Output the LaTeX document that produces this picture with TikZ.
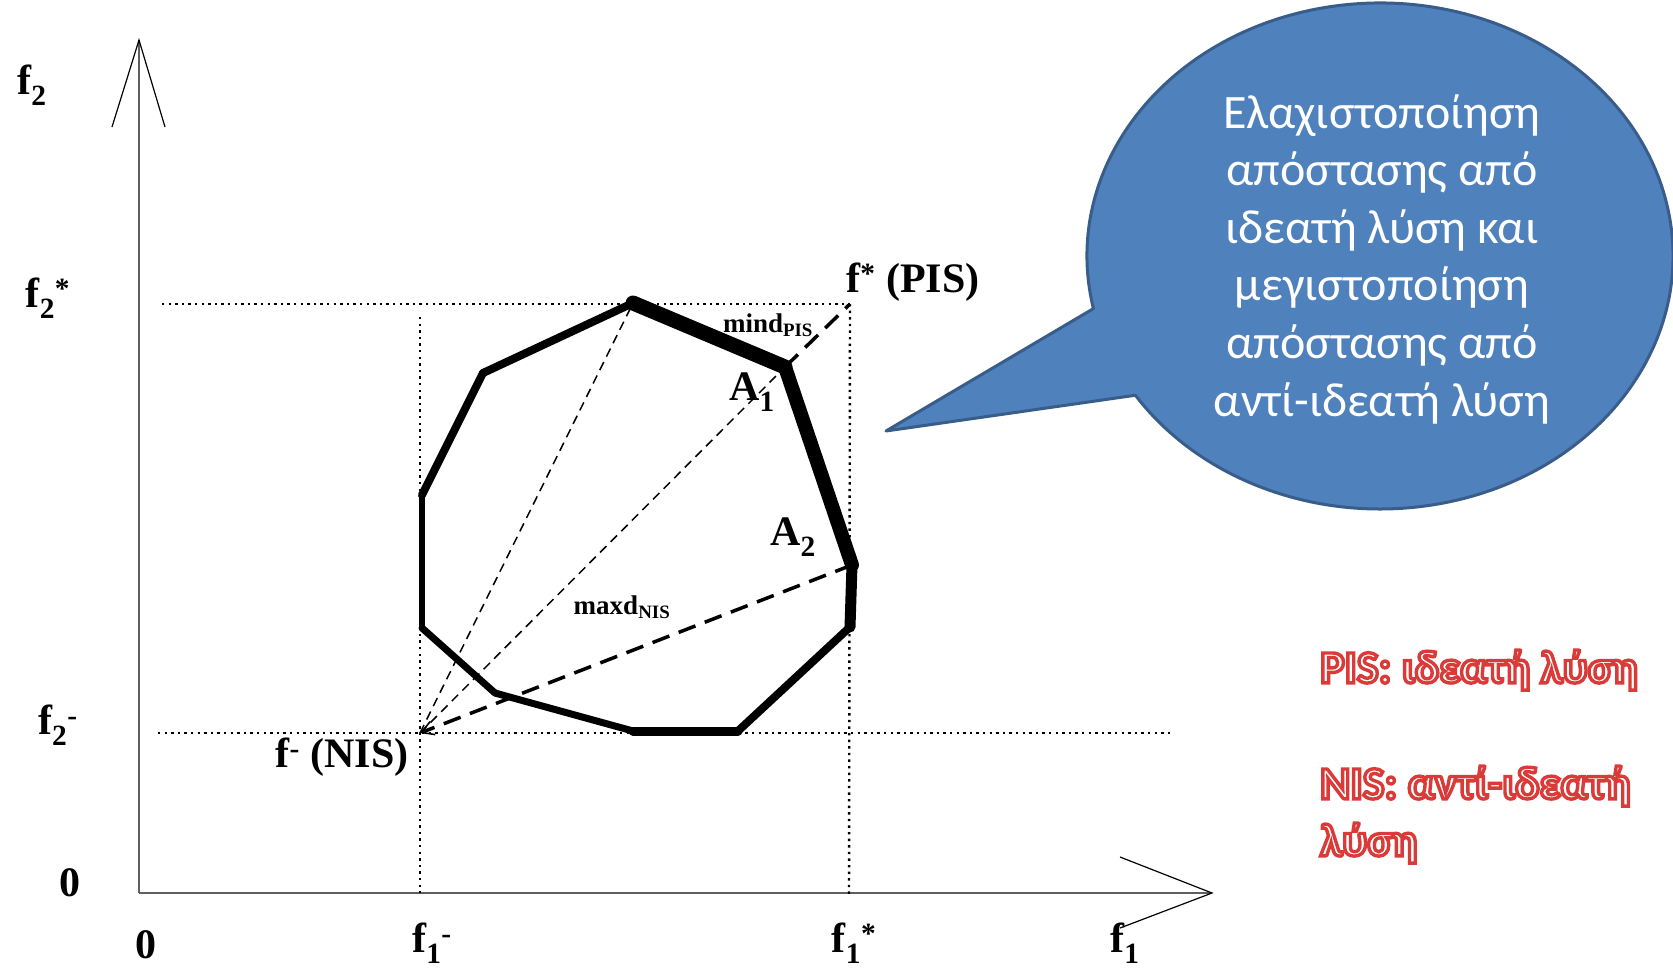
\documentclass[tikz,border=0pt]{standalone}
\usepackage{fontspec}
\setmainfont{Liberation Serif}
\newfontfamily\calfont{Carlito}
\usetikzlibrary{arrows.meta}
\definecolor{callfill}{RGB}{79,129,189}
\definecolor{calldraw}{RGB}{56,93,138}
\definecolor{redtxt}{RGB}{218,58,56}
\definecolor{axisgray}{RGB}{95,95,95}
\newcommand{\outlinetext}[1]{{\color{white}\special{pdf:literal direct 2 Tr 3.4 w 0.855 0.227 0.22 RG}#1\special{pdf:literal direct 0 Tr}}}
\begin{document}
\begin{tikzpicture}[x=1pt,y=-1pt,
  lbl/.style={font=\fontsize{42}{50}\selectfont\bfseries, inner sep=0pt},
  smalllbl/.style={font=\fontsize{27}{32}\selectfont\bfseries, inner sep=0pt},
  axisline/.style={draw=axisgray, line width=2pt},
  wing/.style={draw=black, line width=1.2pt},
  dotline/.style={line width=2.4pt, dash pattern=on 2.4pt off 4.2pt},
  thindash/.style={line width=1.5pt, dash pattern=on 9pt off 6pt},
  thickdash/.style={line width=3.5pt, dash pattern=on 18pt off 10pt},
  polyedge/.style={line width=#1, line cap=round, line join=round},
  calltext/.style={font=\calfont\fontsize{48}{57.6}\selectfont, text=white, align=center, inner sep=0pt},
  redlbl/.style={font=\calfont\fontsize{46}{54}\selectfont\bfseries, inner sep=0pt, anchor=west}
]
\useasboundingbox (0,0) rectangle (1673,972);

% axes
\coordinate (O) at (139,893);
\coordinate (Ytip) at (139,40);
\coordinate (Xtip) at (1212,893);
\coordinate (YwL) at (112,127);
\coordinate (YwR) at (165,127);
\coordinate (XwU) at (1120,857);
\coordinate (XwD) at (1120,928);
\draw[axisline] (O) -- (Ytip);
\draw[axisline] (O) -- (Xtip);
\draw[wing] (YwL) -- (Ytip) -- (YwR);
\draw[wing] (XwU) -- (Xtip) -- (XwD);

% reference points
\coordinate (NIS) at (420,733);
\coordinate (PIS) at (850,304);
\coordinate (f2sL) at (162,304);
\coordinate (f2mL) at (158,733);
\coordinate (f2mR) at (1170,733);
\coordinate (f1mT) at (420,317);
\coordinate (f1mB) at (420,893);
\coordinate (f1sB) at (849,897);

% dotted guides
\draw[dotline] (f2sL) -- (PIS);
\draw[dotline] (PIS) -- (f1sB);
\draw[dotline] (f2mL) -- (f2mR);
\draw[dotline] (f1mT) -- (f1mB);

% polygon vertices
\coordinate (V1) at (633,303);
\coordinate (V2) at (785,367);
\coordinate (V3) at (852,565);
\coordinate (V4) at (850,627);
\coordinate (V5) at (738,731);
\coordinate (V6) at (633,731);
\coordinate (V7) at (495,693);
\coordinate (V8) at (422,628);
\coordinate (V9) at (422,495);
\coordinate (V10) at (483,373);

% dashed distance lines
\draw[thindash] (NIS) -- (V1);
\draw[thindash] (NIS) -- (V2);
\draw[thickdash] (V2) -- (PIS);
\draw[thickdash, -{Straight Barb[length=12pt,width=14pt,line width=1.6pt]}] (V3) -- (NIS);

% polygon edges
\draw[polyedge=15pt] (V1) -- (V2);
\draw[polyedge=14pt] (V2) -- (V3);
\draw[polyedge=11pt] (V3) -- (V4);
\draw[polyedge=8pt] (V4) -- (V5);
\draw[polyedge=9pt] (V5) -- (V6);
\draw[polyedge=7pt] (V6) -- (V7);
\draw[polyedge=7pt] (V7) -- (V8);
\draw[polyedge=6pt] (V8) -- (V9);
\draw[polyedge=8pt] (V9) -- (V10);
\draw[polyedge=8pt] (V10) -- (V1);

% labels
\node[lbl] (lf2) at (32,85) {f\textsubscript{2}};
\node[lbl] (lf2s) at (48,298) {f\textsubscript{2}\textsuperscript{*}};
\node[lbl] (lf2m) at (58,725) {f\textsubscript{2}\textsuperscript{-}};
\node[lbl] (l0y) at (70,883) {0};
\node[lbl] (l0x) at (146,945) {0};
\node[lbl] (lf1m) at (432,943) {f\textsubscript{1}\textsuperscript{-}};
\node[lbl] (lf1s) at (854,943) {f\textsubscript{1}\textsuperscript{*}};
\node[lbl] (lf1) at (1125,943) {f\textsubscript{1}};
\node[lbl] (lNIS) at (342,757) {f\textsuperscript{-} (NIS)};
\node[lbl] (lPIS) at (913,282) {f\textsuperscript{*} (PIS)};
\node[lbl] (lA1) at (752,392) {A\textsubscript{1}};
\node[lbl] (lA2) at (793,537) {A\textsubscript{2}};
\node[smalllbl] (lmind) at (768,325) {mind\textsubscript{PIS}};
\node[smalllbl] (lmaxd) at (622,607) {maxd\textsubscript{NIS}};

% callout
\coordinate (tip) at (886,431);
\coordinate (cc) at (1380,256);
\filldraw[fill=callfill, draw=calldraw, line width=3pt, line join=round]
  (tip) -- ([shift={(168:293 and 253)}]cc)
  arc[start angle=168, end angle=506.6, x radius=293, y radius=253]
  -- cycle;
\node[calltext] (ctext) at (1382,259) {Ελαχιστοποίηση\\απόστασης από\\ιδεατή λύση και\\μεγιστοποίηση\\απόστασης από\\αντί-ιδεατή λύση};

% red legend
\node[redlbl] (r1) at (1320,670) {\outlinetext{PIS: ιδεατή λύση}};
\node[redlbl] (r2) at (1320,786) {\outlinetext{NIS: αντί-ιδεατή}};
\node[redlbl] (r3) at (1320,843) {\outlinetext{λύση}};
\end{tikzpicture}
\end{document}
